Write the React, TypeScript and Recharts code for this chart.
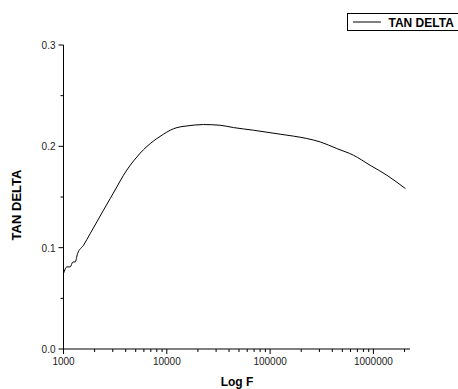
import { LineChart, Line, XAxis, YAxis } from "recharts";

const freqs = [
  1000, 1079, 1161, 1233, 1298, 1367, 1563, 1813, 2102, 2438, 2831, 3286, 3811,
  4425, 5133, 5959, 6907, 8017, 9296, 10790, 12530, 15640, 22650, 32860, 44260,
  69060, 125000, 226600, 304900, 442500, 641800, 929500, 1349000, 2042000,
];
const tanDelta = [
  0.0744, 0.081, 0.081, 0.0859, 0.0859, 0.094, 0.1024, 0.1139, 0.1254, 0.137,
  0.1485, 0.16, 0.1715, 0.1813, 0.1895, 0.1968, 0.2027, 0.2077, 0.212, 0.2159,
  0.2185, 0.2201, 0.2215, 0.2208, 0.2185, 0.2159, 0.212, 0.2077, 0.2044, 0.1978,
  0.1912, 0.1813, 0.1715, 0.1583,
];

const xMajor = [1000, 10000, 100000, 1000000];
const xMinor = [
  2000, 3000, 4000, 5000, 6000, 7000, 8000, 9000, 20000, 30000, 40000, 50000,
  60000, 70000, 80000, 90000, 200000, 300000, 400000, 500000, 600000, 700000,
  800000, 900000, 2000000,
];
const yMajor = [0, 0.1, 0.2, 0.3];
const yMinor = [0.05, 0.15, 0.25];

const data = freqs.map((f, i) => ({ f, td: tanDelta[i] }));

const font = "'Liberation Sans', Arial, sans-serif";

function XTick(props: any) {
  const { x, y, payload } = props;
  const major = xMajor.includes(payload.value);
  return (
    <g>
      <line x1={x} x2={x} y1={y} y2={y + (major ? 5 : 3)} stroke="#000" />
      {major && (
        <text x={x} y={y + 16} textAnchor="middle" fontSize={10} fill="#222" fontFamily={font}>
          {payload.value}
        </text>
      )}
    </g>
  );
}

function YTick(props: any) {
  const { x, y, payload } = props;
  const major = yMajor.some((v) => Math.abs(v - payload.value) < 1e-9);
  return (
    <g>
      <line x1={x - (major ? 5 : 3)} x2={x} y1={y} y2={y} stroke="#000" />
      {major && (
        <text x={x - 8} y={y + 4} textAnchor="end" fontSize={10} fill="#222" fontFamily={font}>
          {payload.value.toFixed(1)}
        </text>
      )}
    </g>
  );
}

export default function App() {
  return (
    <div style={{ position: "absolute", left: 0, top: 0, width: 458, height: 389, background: "#fff", overflow: "hidden" }}>
      <LineChart width={458} height={389} data={data} margin={{ top: 45, right: 48, bottom: 0, left: 0 }}>
        <XAxis
          dataKey="f"
          type="number"
          scale="log"
          domain={[1000, 2260000]}
          ticks={[...xMajor, ...xMinor].sort((a, b) => a - b)}
          tick={XTick}
          tickLine={false}
          tickSize={0}
          tickMargin={0}
          height={40}
          axisLine={{ stroke: "#000" }}
          allowDataOverflow
          interval={0}
        />
        <YAxis
          type="number"
          domain={[0, 0.3]}
          ticks={[...yMajor, ...yMinor].sort((a, b) => a - b)}
          tick={YTick}
          tickLine={false}
          tickSize={0}
          tickMargin={0}
          width={63.5}
          axisLine={{ stroke: "#000" }}
          interval={0}
        />
        <Line
          dataKey="td"
          type="monotone"
          stroke="#000"
          strokeWidth={1}
          dot={false}
          isAnimationActive={false}
        />
        <text x={21} y={205} transform="rotate(-90 21 205)" textAnchor="middle" fontSize={13} fontWeight="bold" fontFamily={font} fill="#000">
          TAN DELTA
        </text>
        <text x={237} y={386} textAnchor="middle" fontSize={12} fontWeight="bold" fontFamily={font} fill="#000">
          Log F
        </text>
        <rect x={347.5} y={13.5} width={115} height={17} fill="#fff" stroke="#000" />
        <line x1={353} x2={381} y1={22} y2={22} stroke="#000" />
        <text x={388.5} y={26.5} fontSize={12} fontWeight="bold" fontFamily={font} fill="#000">
          TAN DELTA
        </text>
      </LineChart>
    </div>
  );
}
